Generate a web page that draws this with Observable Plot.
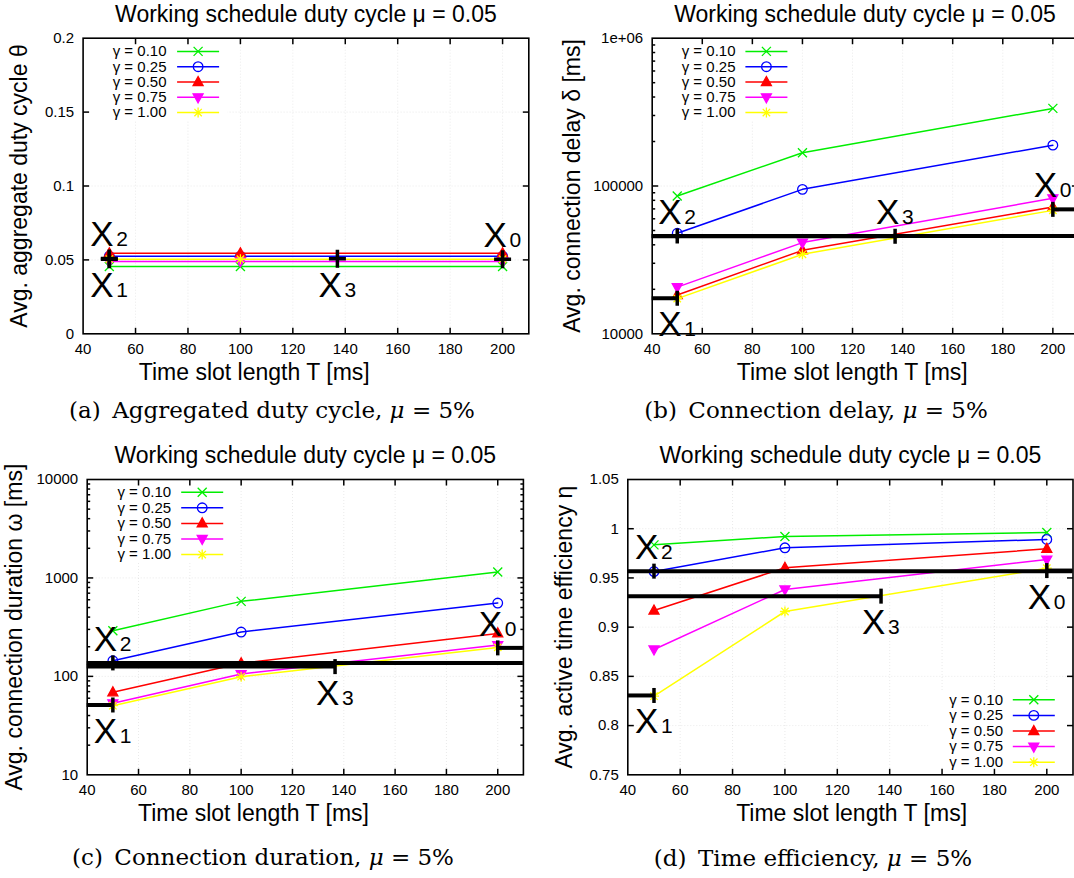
<!DOCTYPE html>
<html>
<head>
<meta charset="utf-8">
<script src="https://cdn.jsdelivr.net/npm/d3@7"></script>
<script src="https://cdn.jsdelivr.net/npm/@observablehq/plot@0.6"></script>
<style>
  html, body { margin: 0; padding: 0; background: #fff; overflow: hidden; }
  #page { position: relative; width: 1074px; height: 878px; overflow: hidden; background: #fff; }
  .panel { position: absolute; }
  .caption {
    position: absolute; white-space: nowrap; color: #000;
    font-family: "DejaVu Serif", "Liberation Serif", serif; font-size: 23px;
    transform: translate(-50%, -50%);
  }
</style>
</head>
<body>
<div id="page"></div>
<script>
// ---- shared axis values -------------------------------------------------
const slotLengths = [50, 100, 200];                       // T [ms]
const xTicks = [40, 60, 80, 100, 120, 140, 160, 180, 200];
const gammaLabels = ["γ = 0.10", "γ = 0.25", "γ = 0.50", "γ = 0.75", "γ = 1.00"];
const seriesColors = ["#00ee00", "#0000ff", "#ff0000", "#ff00ff", "#ffff00"];

// ---- (a) aggregated duty cycle θ, one row per γ, columns T = 50/100/200 --
const dutyCycle = [
  [0.0455, 0.0455, 0.0455],
  [0.0525, 0.0525, 0.0525],
  [0.0545, 0.0545, 0.0545],
  [0.0490, 0.0490, 0.0490],
  [0.0505, 0.0505, 0.0505]
];
const dutyCycleTicks = [0, 0.05, 0.1, 0.15, 0.2];
const dutyCycleTickLabels = ["0", "0.05", "0.1", "0.15", "0.2"];
const dutyCyclePoints = [
  {name: "0", T: 200, v: 0.0505, side: "above"},
  {name: "1", T: 50, v: 0.0505, side: "below"},
  {name: "2", T: 50, v: 0.0510, side: "above"},
  {name: "3", T: 137, v: 0.0507, side: "below"}
];

// ---- (b) connection delay δ [ms] ----------------------------------------
const connDelay = [
  [85600, 168000, 335000],
  [47900, 94900, 189000],
  [18300, 36700, 72100],
  [20700, 41400, 82500],
  [17300, 34500, 68400]
];
const delayTicks = [10000, 100000, 1000000];
const delayTickLabels = ["10000", "100000", "1e+06"];
const delayPoints = [
  {name: "0", T: 200, v: 69500, from: 200, to: 210, side: "above"},
  {name: "1", T: 50, v: 17400, from: 40, to: 50, side: "below"},
  {name: "2", T: 50, v: 45900, from: 40, to: 210, side: "above"},
  {name: "3", T: 137, v: 45700, from: 40, to: 137, side: "above"}
];

// ---- (c) connection duration ω [ms] -------------------------------------
const connDuration = [
  [291, 578, 1148],
  [144, 282, 556],
  [68.8, 136, 273],
  [53.2, 105.6, 208],
  [50.4, 99.3, 197]
];
const durationTicks = [10, 100, 1000, 10000];
const durationTickLabels = ["10", "100", "1000", "10000"];
const durationPoints = [
  {name: "0", T: 200, v: 194.7, from: 200, to: 210, side: "above"},
  {name: "1", T: 50, v: 51.2, from: 40, to: 50, side: "below"},
  {name: "2", T: 50, v: 137, from: 40, to: 210, side: "above"},
  {name: "3", T: 136.6, v: 125.6, from: 40, to: 136.6, side: "below"}
];

// ---- (d) active time efficiency η ---------------------------------------
const timeEfficiency = [
  [0.9836, 0.9921, 0.9962],
  [0.9565, 0.9806, 0.9891],
  [0.9169, 0.9603, 0.9796],
  [0.8773, 0.9383, 0.9687],
  [0.8299, 0.9159, 0.9599]
];
const efficiencyTicks = [0.75, 0.8, 0.85, 0.9, 0.95, 1, 1.05];
const efficiencyTickLabels = ["0.75", "0.8", "0.85", "0.9", "0.95", "1", "1.05"];
const efficiencyPoints = [
  {name: "0", T: 200, v: 0.9575, from: 200, to: 210, side: "below"},
  {name: "1", T: 50, v: 0.8306, from: 40, to: 50, side: "below"},
  {name: "2", T: 50, v: 0.9569, from: 40, to: 210, side: "above"},
  {name: "3", T: 136.7, v: 0.9315, from: 40, to: 136.7, side: "below"}
];

const panelTitle = "Working schedule duty cycle μ = 0.05";
const xTitle = "Time slot length T [ms]";

// ---- symbols drawn as d3 symbol types -----------------------------------
const segSymbol = segs => ({draw(ctx) { for (const [a, b, c, d] of segs) { ctx.moveTo(a, b); ctx.lineTo(c, d); } }});
const rectSymbol = (x, y, w, h) => ({draw(ctx) { ctx.rect(x, y, w, h); }});
const circleSymbol = r => ({draw(ctx) { ctx.moveTo(r, 0); ctx.arc(0, 0, r, 0, 2 * Math.PI); ctx.closePath(); }});
const triangleSymbol = up => ({draw(ctx) {
  const s = up ? 1 : -1;
  ctx.moveTo(0, -5.5 * s); ctx.lineTo(5, 3.5 * s); ctx.lineTo(-5, 3.5 * s); ctx.closePath();
}});
const seriesSymbols = [
  {symbol: segSymbol([[-4.5, -4.5, 4.5, 4.5], [-4.5, 4.5, 4.5, -4.5]]), filled: false},
  {symbol: circleSymbol(4.8), filled: false},
  {symbol: triangleSymbol(true), filled: true},
  {symbol: triangleSymbol(false), filled: true},
  {symbol: segSymbol([[-5, 0, 5, 0], [0, -5, 0, 5], [-3.7, -3.7, 3.7, 3.7], [-3.7, 3.7, 3.7, -3.7]]), filled: false}
];
const legendLine = segSymbol([[-21, 0, 21, 0]]);
const plusMark = segSymbol([[-8.5, 0, 8.5, 0], [0, -9, 0, 9]]);
const vTick = segSymbol([[0, -7.5, 0, 7.5]]);
const tickUp = l => segSymbol([[0, 0, 0, -l]]);
const tickDown = l => segSymbol([[0, 0, 0, l]]);
const tickRight = l => segSymbol([[0, 0, l, 0]]);
const tickLeft = l => segSymbol([[0, 0, -l, 0]]);

const FONT = "'Liberation Sans', Arial, Helvetica, sans-serif";

function drawPanel(p) {
  const rows = p.values.flatMap((vals, g) => slotLengths.map((T, j) => ({T, v: vals[j], g})));
  const [y0, y1] = p.yDomain;
  const yLabelOf = new Map(p.yTicks.map((t, i) => [t, p.yTickLabels[i]]));
  const grid = {stroke: "#333", strokeDasharray: "1,2", strokeWidth: 1};
  const black = {stroke: "black", fill: "none"};
  const L = p.legend;

  const marks = [
    Plot.gridX(xTicks.filter(t => t > 40), grid),
    Plot.gridY(p.yTicks.filter(t => t > y0 && t < y1), grid),
    // opaque key background
    Plot.dot([0], {frameAnchor: L.anchor, symbol: rectSymbol(...L.box), fill: "white", stroke: "none"}),
    // series
    ...seriesColors.flatMap((c, g) => [
      Plot.line(rows.filter(r => r.g === g), {x: "T", y: "v", stroke: c, strokeWidth: 1.5}),
      Plot.dot(rows.filter(r => r.g === g), {
        x: "T", y: "v", symbol: seriesSymbols[g].symbol, stroke: c,
        fill: seriesSymbols[g].filled ? c : "none", strokeWidth: 1.3
      })
    ])
  ];

  // reference points X0..X3
  if (p.plusPoints) {
    marks.push(Plot.dot(p.points, {x: "T", y: "v", symbol: plusMark, ...black, strokeWidth: 3.5}));
  } else {
    marks.push(Plot.ruleY(p.points, {y: "v", x1: "from", x2: "to", stroke: "black", strokeWidth: 4}));
    marks.push(Plot.dot(p.points, {x: "T", y: "v", symbol: vTick, ...black, strokeWidth: 3.5}));
  }

  // frame and inward ticks
  marks.push(Plot.frame({stroke: "black", strokeWidth: 1.6}));
  const inner = xTicks.filter(t => t > 40);
  marks.push(Plot.dot(inner, {x: d => d, y: () => y0, symbol: tickUp(6), ...black}));
  marks.push(Plot.dot(inner, {x: d => d, y: () => y1, symbol: tickDown(6), ...black}));
  const yInner = p.yTicks.filter(t => t > y0 && t < y1);
  marks.push(Plot.dot(yInner, {x: () => 40, y: d => d, symbol: tickRight(6), ...black}));
  marks.push(Plot.dot(yInner, {x: () => 210, y: d => d, symbol: tickLeft(6), ...black}));
  if (p.yMinor) {
    marks.push(Plot.dot(p.yMinor, {x: () => 40, y: d => d, symbol: tickRight(3), ...black}));
    marks.push(Plot.dot(p.yMinor, {x: () => 210, y: d => d, symbol: tickLeft(3), ...black}));
  }

  // tick labels
  marks.push(Plot.axisX(xTicks, {anchor: "bottom", tickSize: 0, tickPadding: 10, fontSize: 15, label: null, tickFormat: d => String(d)}));
  marks.push(Plot.axisY(p.yTicks, {anchor: "left", tickSize: 0, tickPadding: 9, fontSize: 15, label: null, tickFormat: d => yLabelOf.get(d)}));

  // key entries
  gammaLabels.forEach((lab, i) => {
    const dy = L.rowY + i * L.rowStep;
    marks.push(Plot.text([lab], {frameAnchor: L.anchor, dx: L.textX, dy, textAnchor: "end", lineAnchor: "middle", fontSize: 15}));
    marks.push(Plot.dot([0], {frameAnchor: L.anchor, dx: L.lineX, dy, symbol: legendLine, stroke: seriesColors[i], fill: "none", strokeWidth: 1.5}));
    marks.push(Plot.dot([0], {frameAnchor: L.anchor, dx: L.lineX, dy, symbol: seriesSymbols[i].symbol, stroke: seriesColors[i],
      fill: seriesSymbols[i].filled ? seriesColors[i] : "none", strokeWidth: 1.3}));
  });

  // X_i labels: big letter plus subscript digit
  for (const side of ["above", "below"]) {
    const pts = p.points.filter(d => d.side === side);
    const dy = side === "above" ? -12 : 38;
    marks.push(Plot.text(pts, {x: "T", y: "v", text: () => "X", dx: -19, dy, textAnchor: "start", lineAnchor: "bottom", fontSize: 35}));
    marks.push(Plot.text(pts, {x: "T", y: "v", text: "name", dx: 7, dy, textAnchor: "start", lineAnchor: "bottom", fontSize: 21}));
  }

  // titles
  marks.push(Plot.text([panelTitle], {frameAnchor: "top", dy: -24, textAnchor: "middle", lineAnchor: "middle", fontSize: 23}));
  marks.push(Plot.text([xTitle], {frameAnchor: "bottom", dx: p.xTitleDx, dy: p.xTitleDy, textAnchor: "middle", lineAnchor: "middle", fontSize: 23}));
  marks.push(Plot.text([p.yTitle], {frameAnchor: "left", dx: p.yTitleDx, rotate: -90, textAnchor: "middle", lineAnchor: "middle", fontSize: 23}));

  const chart = Plot.plot({
    width: p.width, height: p.height,
    marginLeft: p.ml, marginRight: p.mr, marginTop: p.mt, marginBottom: p.mb,
    style: {fontFamily: FONT, fontSize: "15px", background: "transparent", overflow: "visible", color: "#000"},
    x: {domain: [40, 210]},
    y: {type: p.yType, domain: p.yDomain},
    marks
  });
  chart.classList.add("panel");
  chart.style.left = p.left + "px";
  chart.style.top = p.top + "px";
  document.getElementById("page").appendChild(chart);
}

const minorLog = (lo, hi) => {
  const out = [];
  for (let d = lo; d < hi; d *= 10) for (let k = 2; k <= 9; k++) out.push(k * d);
  return out;
};

drawPanel({
  left: 0, top: 0, width: 540, height: 390, ml: 82.6, mr: 11.7, mt: 37.7, mb: 56.7,
  values: dutyCycle, yType: "linear", yDomain: [0, 0.2],
  yTicks: dutyCycleTicks, yTickLabels: dutyCycleTickLabels,
  points: dutyCyclePoints, plusPoints: true,
  yTitle: "Avg. aggregate duty cycle θ", yTitleDx: -63.6, xTitleDx: -51.7, xTitleDy: 38.4,
  legend: {anchor: "top-left", box: [0, 0, 144.5, 82], textX: 83.4, lineX: 115, rowY: 13.2, rowStep: 15.3}
});

drawPanel({
  left: 540, top: 0, width: 560, height: 390, ml: 111.7, mr: 22.6, mt: 37.7, mb: 56.7,
  values: connDelay, yType: "log", yDomain: [10000, 1000000],
  yTicks: delayTicks, yTickLabels: delayTickLabels, yMinor: minorLog(10000, 1000000),
  points: delayPoints,
  yTitle: "Avg. connection delay δ [ms]", yTitleDx: -80, xTitleDx: -12.8, xTitleDy: 38.4,
  legend: {anchor: "top-left", box: [0, 0, 143, 82], textX: 83.3, lineX: 114.2, rowY: 13.2, rowStep: 15.3}
});

drawPanel({
  left: 0, top: 430, width: 540, height: 400, ml: 86.7, mr: 17.1, mt: 49, mb: 55.7,
  values: connDuration, yType: "log", yDomain: [10, 10000],
  yTicks: durationTicks, yTickLabels: durationTickLabels, yMinor: minorLog(10, 10000),
  points: durationPoints,
  yTitle: "Avg. connection duration ω [ms]", yTitleDx: -73, xTitleDx: -51.8, xTitleDy: 39.3,
  legend: {anchor: "top-left", box: [0, 0, 138, 83], textX: 84, lineX: 115, rowY: 12.7, rowStep: 15.6}
});

drawPanel({
  left: 540, top: 430, width: 540, height: 400, ml: 87.3, mr: 7.5, mt: 49, mb: 55.7,
  values: timeEfficiency, yType: "linear", yDomain: [0.75, 1.05],
  yTicks: efficiencyTicks, yTickLabels: efficiencyTickLabels,
  points: efficiencyPoints,
  yTitle: "Avg. active time efficiency η", yTitleDx: -63, xTitleDx: 1.2, xTitleDy: 39.3,
  legend: {anchor: "bottom-right", box: [-144.7, -84, 144.7, 84], textX: -70, lineX: -39.2, rowY: -75, rowStep: 15.6}
});

// sub-figure captions
const captions = [
  {html: "(a)&ensp;Aggregated duty cycle, <i>μ</i> = 5%", x: 272, y: 410},
  {html: "(b)&ensp;Connection delay, <i>μ</i> = 5%", x: 816, y: 410},
  {html: "(c)&ensp;Connection duration, <i>μ</i> = 5%", x: 263, y: 857},
  {html: "(d)&ensp;Time efficiency, <i>μ</i> = 5%", x: 813, y: 858}
];
for (const c of captions) {
  const div = document.createElement("div");
  div.className = "caption";
  div.innerHTML = c.html;
  div.style.left = c.x + "px";
  div.style.top = c.y + "px";
  document.getElementById("page").appendChild(div);
}
</script>
</body>
</html>
